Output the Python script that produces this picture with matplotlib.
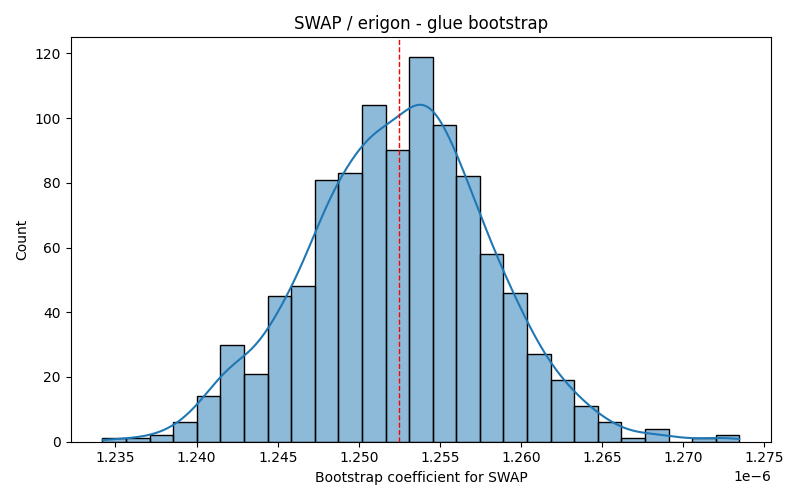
import numpy as np
import matplotlib
matplotlib.use('Agg')
import matplotlib.pyplot as plt
from matplotlib.colors import to_rgba

# bootstrap histogram (27 bins)
x_min = 1.23420e-6
x_max = 1.27345e-6
counts = [1, 1, 2, 6, 14, 30, 21, 45, 48, 81, 83, 104, 90, 119, 98, 82,
          58, 46, 27, 19, 11, 6, 1, 4, 0, 1, 2]
point_estimate = 1.25249e-6

title = "SWAP / erigon - glue bootstrap"
xlabel = "Bootstrap coefficient for SWAP"
ylabel = "Count"

edges = np.linspace(x_min, x_max, len(counts) + 1)
centers = (edges[:-1] + edges[1:]) / 2
width = edges[1] - edges[0]
counts = np.array(counts, dtype=float)
n = counts.sum()

fig, ax = plt.subplots(figsize=(8, 5), dpi=100)
ax.bar(edges[:-1], counts, width=width, align='edge',
       facecolor=to_rgba('C0', 0.5), edgecolor='black', linewidth=1)

# kde of the binned sample, scaled to counts
mean = np.sum(centers * counts) / n
sd = np.sqrt(np.sum(counts * (centers - mean) ** 2) / n)
bw = sd * n ** (-1 / 5)
grid = np.linspace(x_min, x_max, 300)
dens = np.sum(counts[None, :] * np.exp(-0.5 * ((grid[:, None] - centers[None, :]) / bw) ** 2), axis=1)
dens = dens / (n * bw * np.sqrt(2 * np.pi))
ax.plot(grid, dens * n * width, color='C0', linewidth=1.5)

ax.axvline(point_estimate, color='red', linestyle='--', linewidth=1)

ax.set_title(title)
ax.set_xlabel(xlabel)
ax.set_ylabel(ylabel)
plt.tight_layout()
plt.savefig('out.png')
plt.close(fig)
